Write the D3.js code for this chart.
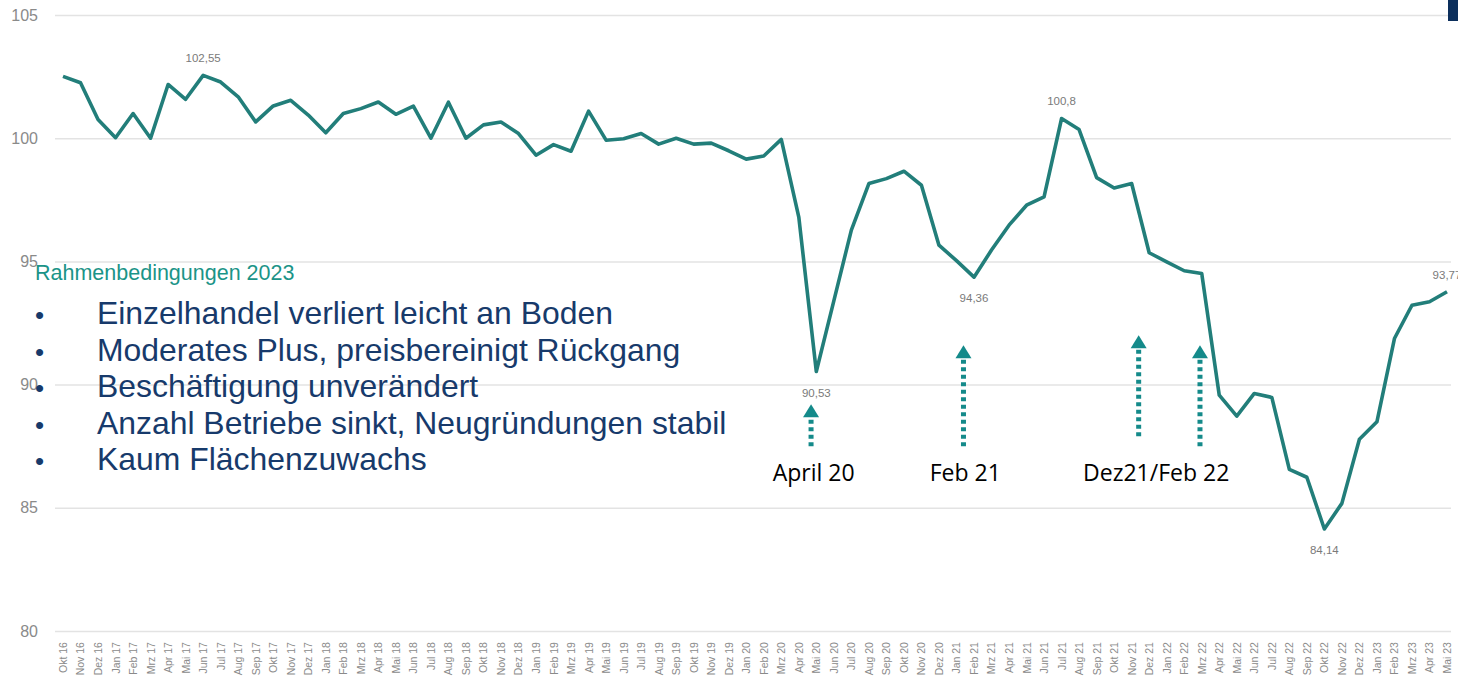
<!DOCTYPE html>
<html>
<head>
<meta charset="utf-8">
<script src="https://cdn.jsdelivr.net/npm/d3@7/dist/d3.min.js"></script>
<style>
    body { margin: 0; background: #fff; }
    svg { display: block; }
</style>
</head>
<body>
<svg id="chart" width="1458" height="682"></svg>
<script>
// Monthly index values, Okt 16 .. Mai 23
const months = [
    "Okt 16", "Nov 16", "Dez 16",
    "Jan 17", "Feb 17", "Mrz 17", "Apr 17", "Mai 17", "Jun 17", "Jul 17", "Aug 17", "Sep 17", "Okt 17", "Nov 17", "Dez 17",
    "Jan 18", "Feb 18", "Mrz 18", "Apr 18", "Mai 18", "Jun 18", "Jul 18", "Aug 18", "Sep 18", "Okt 18", "Nov 18", "Dez 18",
    "Jan 19", "Feb 19", "Mrz 19", "Apr 19", "Mai 19", "Jun 19", "Jul 19", "Aug 19", "Sep 19", "Okt 19", "Nov 19", "Dez 19",
    "Jan 20", "Feb 20", "Mrz 20", "Apr 20", "Mai 20", "Jun 20", "Jul 20", "Aug 20", "Sep 20", "Okt 20", "Nov 20", "Dez 20",
    "Jan 21", "Feb 21", "Mrz 21", "Apr 21", "Mai 21", "Jun 21", "Jul 21", "Aug 21", "Sep 21", "Okt 21", "Nov 21", "Dez 21",
    "Jan 22", "Feb 22", "Mrz 22", "Apr 22", "Mai 22", "Jun 22", "Jul 22", "Aug 22", "Sep 22", "Okt 22", "Nov 22", "Dez 22",
    "Jan 23", "Feb 23", "Mrz 23", "Apr 23", "Mai 23"
];

const values = [
    102.51, 102.25, 100.76,
    100.02, 101.0, 100.0, 102.18, 101.58, 102.55, 102.28, 101.68, 100.66, 101.31, 101.54, 100.94,
    100.22, 101.0, 101.2, 101.47, 100.97, 101.3, 100.0, 101.46, 100.0, 100.54, 100.66, 100.19,
    99.31, 99.74, 99.47, 101.1, 99.92, 99.98, 100.19, 99.76, 100.0, 99.76, 99.8, 99.49,
    99.15, 99.28, 99.95, 96.8, 90.53, 93.4, 96.27, 98.16, 98.36, 98.66, 98.09, 95.66,
    95.03, 94.36, 95.46, 96.47, 97.28, 97.62, 100.8, 100.35, 98.4, 97.98, 98.16, 95.35,
    94.98, 94.62, 94.51, 89.57, 88.72, 89.64, 89.48, 86.56, 86.24, 84.14, 85.18, 87.78,
    88.49, 91.87, 93.22, 93.36, 93.77
];

const yTicks = [80, 85, 90, 95, 100, 105];

// months whose value gets a label, and where the label sits
const labelled = [8, 43, 52, 57, 72, 79];
const labelAbove = [true, false, false, true, false, true];

const headline = "Rahmenbedingungen 2023";
const bullets = [
    "Einzelhandel verliert leicht an Boden",
    "Moderates Plus, preisbereinigt Rückgang",
    "Beschäftigung unverändert",
    "Anzahl Betriebe sinkt, Neugründungen stabil",
    "Kaum Flächenzuwachs"
];

// arrows: month position (fractional), tip and foot on the value axis
const arrowAt = [42.7, 51.4, 61.4, 64.9];
const arrowTip = [89.2, 91.6, 92.0, 91.6];
const arrowFoot = [87.5, 87.5, 87.9, 87.5];
const arrowText = ["April 20", "Feb 21", "Dez21/Feb 22"];
const arrowTextAt = [42.85, 51.5, 62.4];

const svg = d3.select("#chart");

const x = d3.scaleLinear().domain([0, months.length - 1]).range([63, 1447]);
const y = d3.scaleLinear().domain([80, 105]).range([631, 15]);

const fmt = v => String(v).replace(".", ",");

// y grid + labels
const yAxis = svg.append("g")
    .attr("transform", "translate(55,0)")
    .call(d3.axisLeft(y).tickValues(yTicks).tickSize(-1396).tickPadding(17).tickFormat(d3.format("d")));
yAxis.select(".domain").remove();
yAxis.selectAll("line").attr("stroke", "#e3e3e3").attr("stroke-width", 1.5);
yAxis.selectAll("text")
    .attr("fill", "#8a8a8a")
    .style("font-family", "Liberation Sans, Arial, sans-serif")
    .style("font-size", "16px");

// x labels, rotated
const xAxis = svg.append("g")
    .attr("transform", "translate(0,641)")
    .call(d3.axisBottom(x).tickValues(d3.range(months.length)).tickSize(0).tickFormat(i => months[i]));
xAxis.select(".domain").remove();
xAxis.selectAll("text")
    .attr("fill", "#8a8a8a")
    .attr("transform", "rotate(-90)")
    .attr("text-anchor", "end")
    .attr("x", 0)
    .attr("y", 0)
    .attr("dx", "-0.1em")
    .attr("dy", "0.33em")
    .style("font-family", "Liberation Sans, Arial, sans-serif")
    .style("font-size", "10.5px");

// the line
const line = d3.line()
    .x((d, i) => x(i))
    .y(d => y(d));

svg.append("path")
    .datum(values)
    .attr("fill", "none")
    .attr("stroke", "#227e7a")
    .attr("stroke-width", 3.6)
    .attr("stroke-linejoin", "round")
    .attr("d", line);

// value labels
svg.append("g")
    .selectAll("text")
    .data(labelled)
    .join("text")
    .attr("x", i => x(i))
    .attr("y", (i, k) => y(values[i]) + (labelAbove[k] ? -13 : 25))
    .attr("text-anchor", "middle")
    .attr("fill", "#7a7a7a")
    .style("font-family", "Liberation Sans, Arial, sans-serif")
    .style("font-size", "11.5px")
    .text(i => fmt(values[i]));

// text block
const block = svg.append("g").style("font-family", "Liberation Sans, Arial, sans-serif");
block.append("text")
    .attr("x", 35)
    .attr("y", 280)
    .attr("fill", "#1b9488")
    .style("font-size", "21.5px")
    .text(headline);

const rows = block.selectAll("g.row")
    .data(bullets)
    .join("g")
    .attr("class", "row")
    .attr("transform", (d, i) => `translate(0,${324 + i * 36.6})`);
rows.append("text")
    .attr("x", 35)
    .attr("fill", "#173a6b")
    .style("font-size", "26px")
    .text("•");
rows.append("text")
    .attr("x", 97)
    .attr("fill", "#173a6b")
    .style("font-size", "31.9px")
    .text(d => d);

// arrows
const arrows = svg.append("g");
arrowAt.forEach((a, i) => {
    const ax = x(a);
    const tip = y(arrowTip[i]);
    const foot = y(arrowFoot[i]);
    arrows.append("line")
        .attr("x1", ax).attr("x2", ax)
        .attr("y1", foot).attr("y2", tip + 14)
        .attr("stroke", "#148a8a")
        .attr("stroke-width", 5)
        .attr("stroke-dasharray", "4,3.5");
    arrows.append("path")
        .attr("d", `M${ax - 8},${tip + 13}L${ax + 8},${tip + 13}L${ax},${tip}Z`)
        .attr("fill", "#148a8a");
});

svg.append("g")
    .selectAll("text")
    .data(arrowText)
    .join("text")
    .attr("x", (d, i) => x(arrowTextAt[i]))
    .attr("y", 481)
    .attr("text-anchor", "middle")
    .attr("fill", "#000")
    .style("font-family", "Open Sans, sans-serif")
    .style("font-size", "23px")
    .text(d => d);

// corner marker
svg.append("rect")
    .attr("x", 1448)
    .attr("y", 0)
    .attr("width", 10)
    .attr("height", 21)
    .attr("fill", "#0c2f5c");
</script>
</body>
</html>
